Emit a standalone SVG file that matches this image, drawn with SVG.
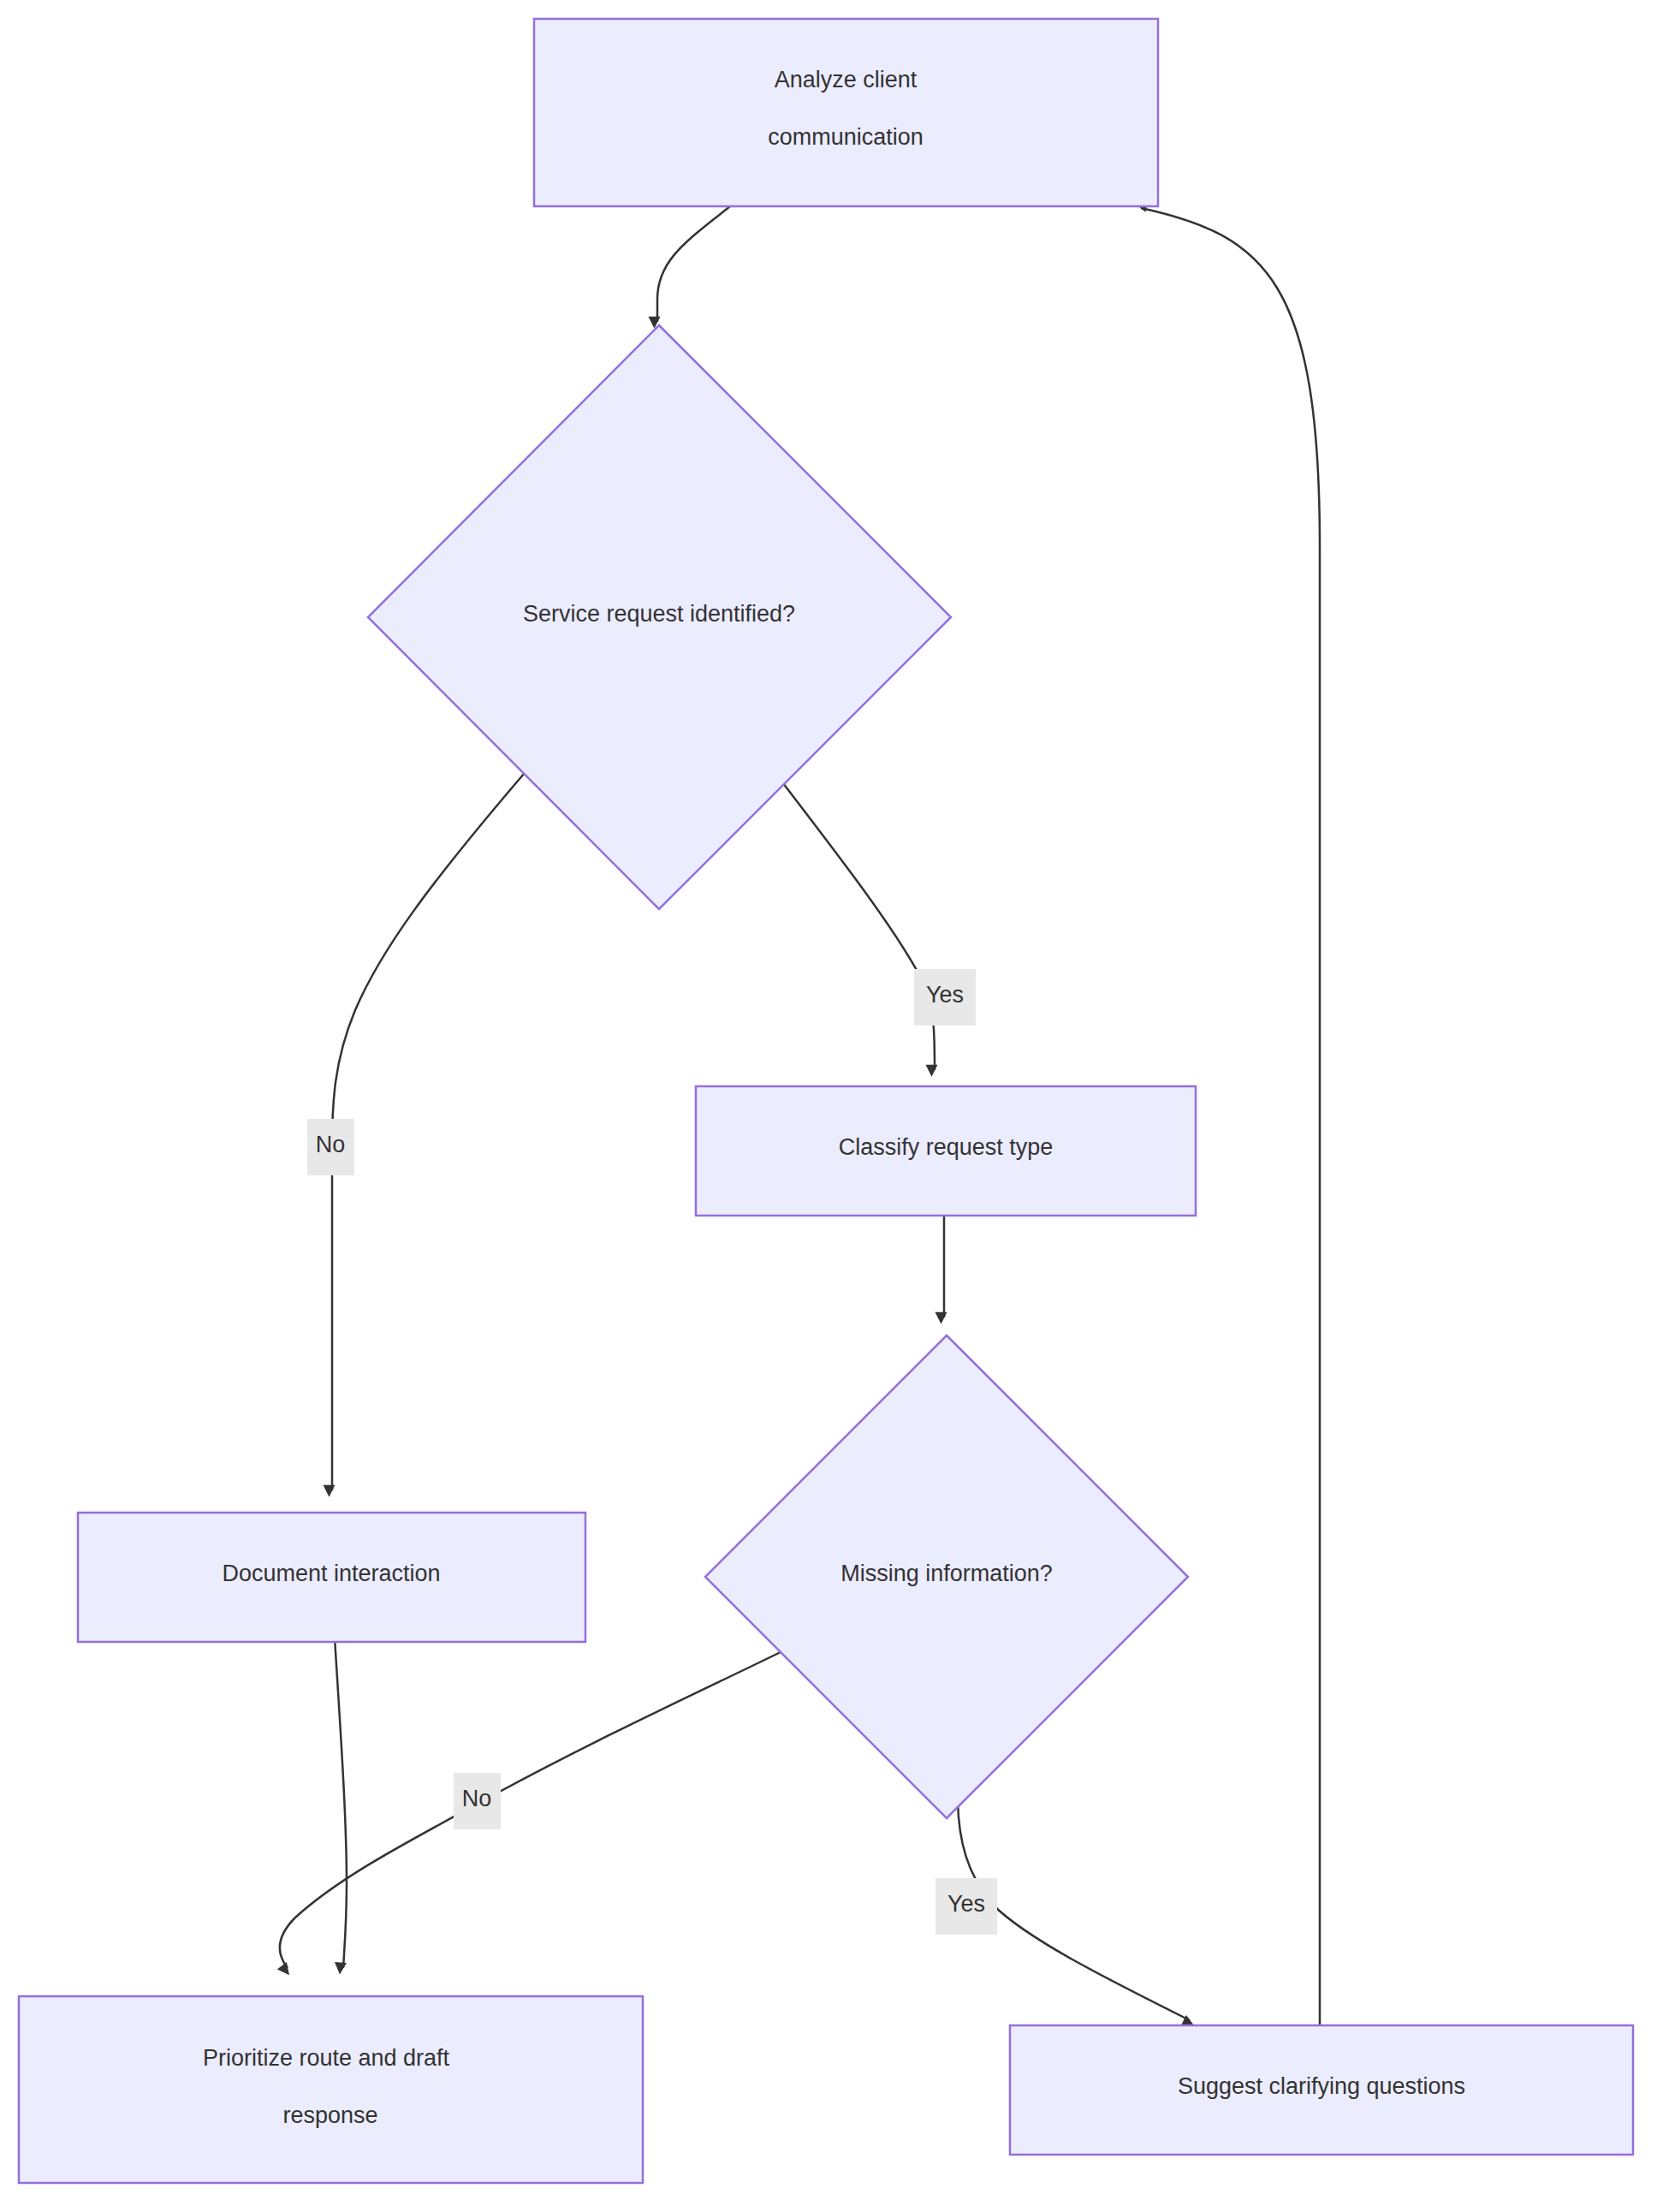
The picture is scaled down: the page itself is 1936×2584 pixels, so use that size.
<svg xmlns="http://www.w3.org/2000/svg" width="1936" height="2584" viewBox="0 0 1936 2584">
<style>
.n{fill:#ECECFF;stroke:#9370DB;stroke-width:2.5}
.t{font-family:"Liberation Sans",Arial,sans-serif;font-size:27px;fill:#333;text-anchor:middle;dominant-baseline:central}
.e{fill:none;stroke:#333;stroke-width:2.5}
.lb{fill:#e8e8e8}
</style>
<defs><marker id="ar" viewBox="0 0 10 10" refX="9" refY="5" markerWidth="7" markerHeight="7" orient="auto" markerUnits="userSpaceOnUse" style="overflow:visible"><path d="M0,0 L10,5 L0,10 z" fill="#333" transform="scale(2)"/></marker></defs>
<rect width="1936" height="2584" fill="#fff"/>
<g id="edges">
<path class="e" marker-end="url(#ar)" d="M853,241 C800,283 768,305 768,350 L768,376"/>
<path class="e" marker-end="url(#ar)" d="M915,915 C980,1000 1050,1090 1080,1150 C1092,1180 1092,1210 1092,1250"/>
<path class="e" marker-end="url(#ar)" d="M612,904 C500,1035 445,1110 415,1180 C390,1240 388,1290 388,1340 L388,1741"/>
<path class="e" marker-end="url(#ar)" d="M1103,1402 L1103,1539"/>
<path class="e" marker-end="url(#ar)" d="M391,1913 C397,2010 405,2120 405,2200 C405,2240 403,2270 401,2299"/>
<path class="e" marker-end="url(#ar)" d="M914,1929 C820,1975 700,2030 580,2095 C480,2150 400,2190 345,2240 C320,2265 325,2285 336,2299"/>
<path class="e" marker-end="url(#ar)" d="M1119,2104 C1120,2150 1130,2190 1160,2225 C1200,2265 1290,2310 1390,2360"/>
<path class="e" marker-end="url(#ar)" d="M1542,2365 L1542,640 C1542,330 1480,275 1333,243"/>
</g>
<g id="lbl1"><rect class="lb" x="1068" y="1132" width="72" height="66"/><text class="t" x="1104" y="1162">Yes</text></g>
<g id="lbl2"><rect class="lb" x="359" y="1307" width="55" height="66"/><text class="t" x="386" y="1337">No</text></g>
<g id="lbl3"><rect class="lb" x="530" y="2071" width="55" height="66"/><text class="t" x="557" y="2101">No</text></g>
<g id="lbl4"><rect class="lb" x="1093" y="2194" width="72" height="66"/><text class="t" x="1129" y="2224">Yes</text></g>
<g id="A"><rect class="n" x="624" y="22" width="729" height="219"/><text class="t" x="988" y="93">Analyze client</text><text class="t" x="988" y="160">communication</text></g>
<g id="B"><polygon class="n" points="770,380 1111,721 770,1062 430,721"/><text class="t" x="770" y="717">Service request identified?</text></g>
<g id="C"><rect class="n" x="813" y="1269" width="584" height="151"/><text class="t" x="1105" y="1340">Classify request type</text></g>
<g id="D"><polygon class="n" points="1106,1560 1388,1842 1106,2124 824,1842"/><text class="t" x="1106" y="1838">Missing information?</text></g>
<g id="E"><rect class="n" x="91" y="1767" width="593" height="151"/><text class="t" x="387" y="1838">Document interaction</text></g>
<g id="F"><rect class="n" x="22" y="2332" width="729" height="218"/><text class="t" x="381" y="2404">Prioritize route and draft</text><text class="t" x="386" y="2471">response</text></g>
<g id="G"><rect class="n" x="1180" y="2366" width="728" height="151"/><text class="t" x="1544" y="2437">Suggest clarifying questions</text></g>
</svg>
